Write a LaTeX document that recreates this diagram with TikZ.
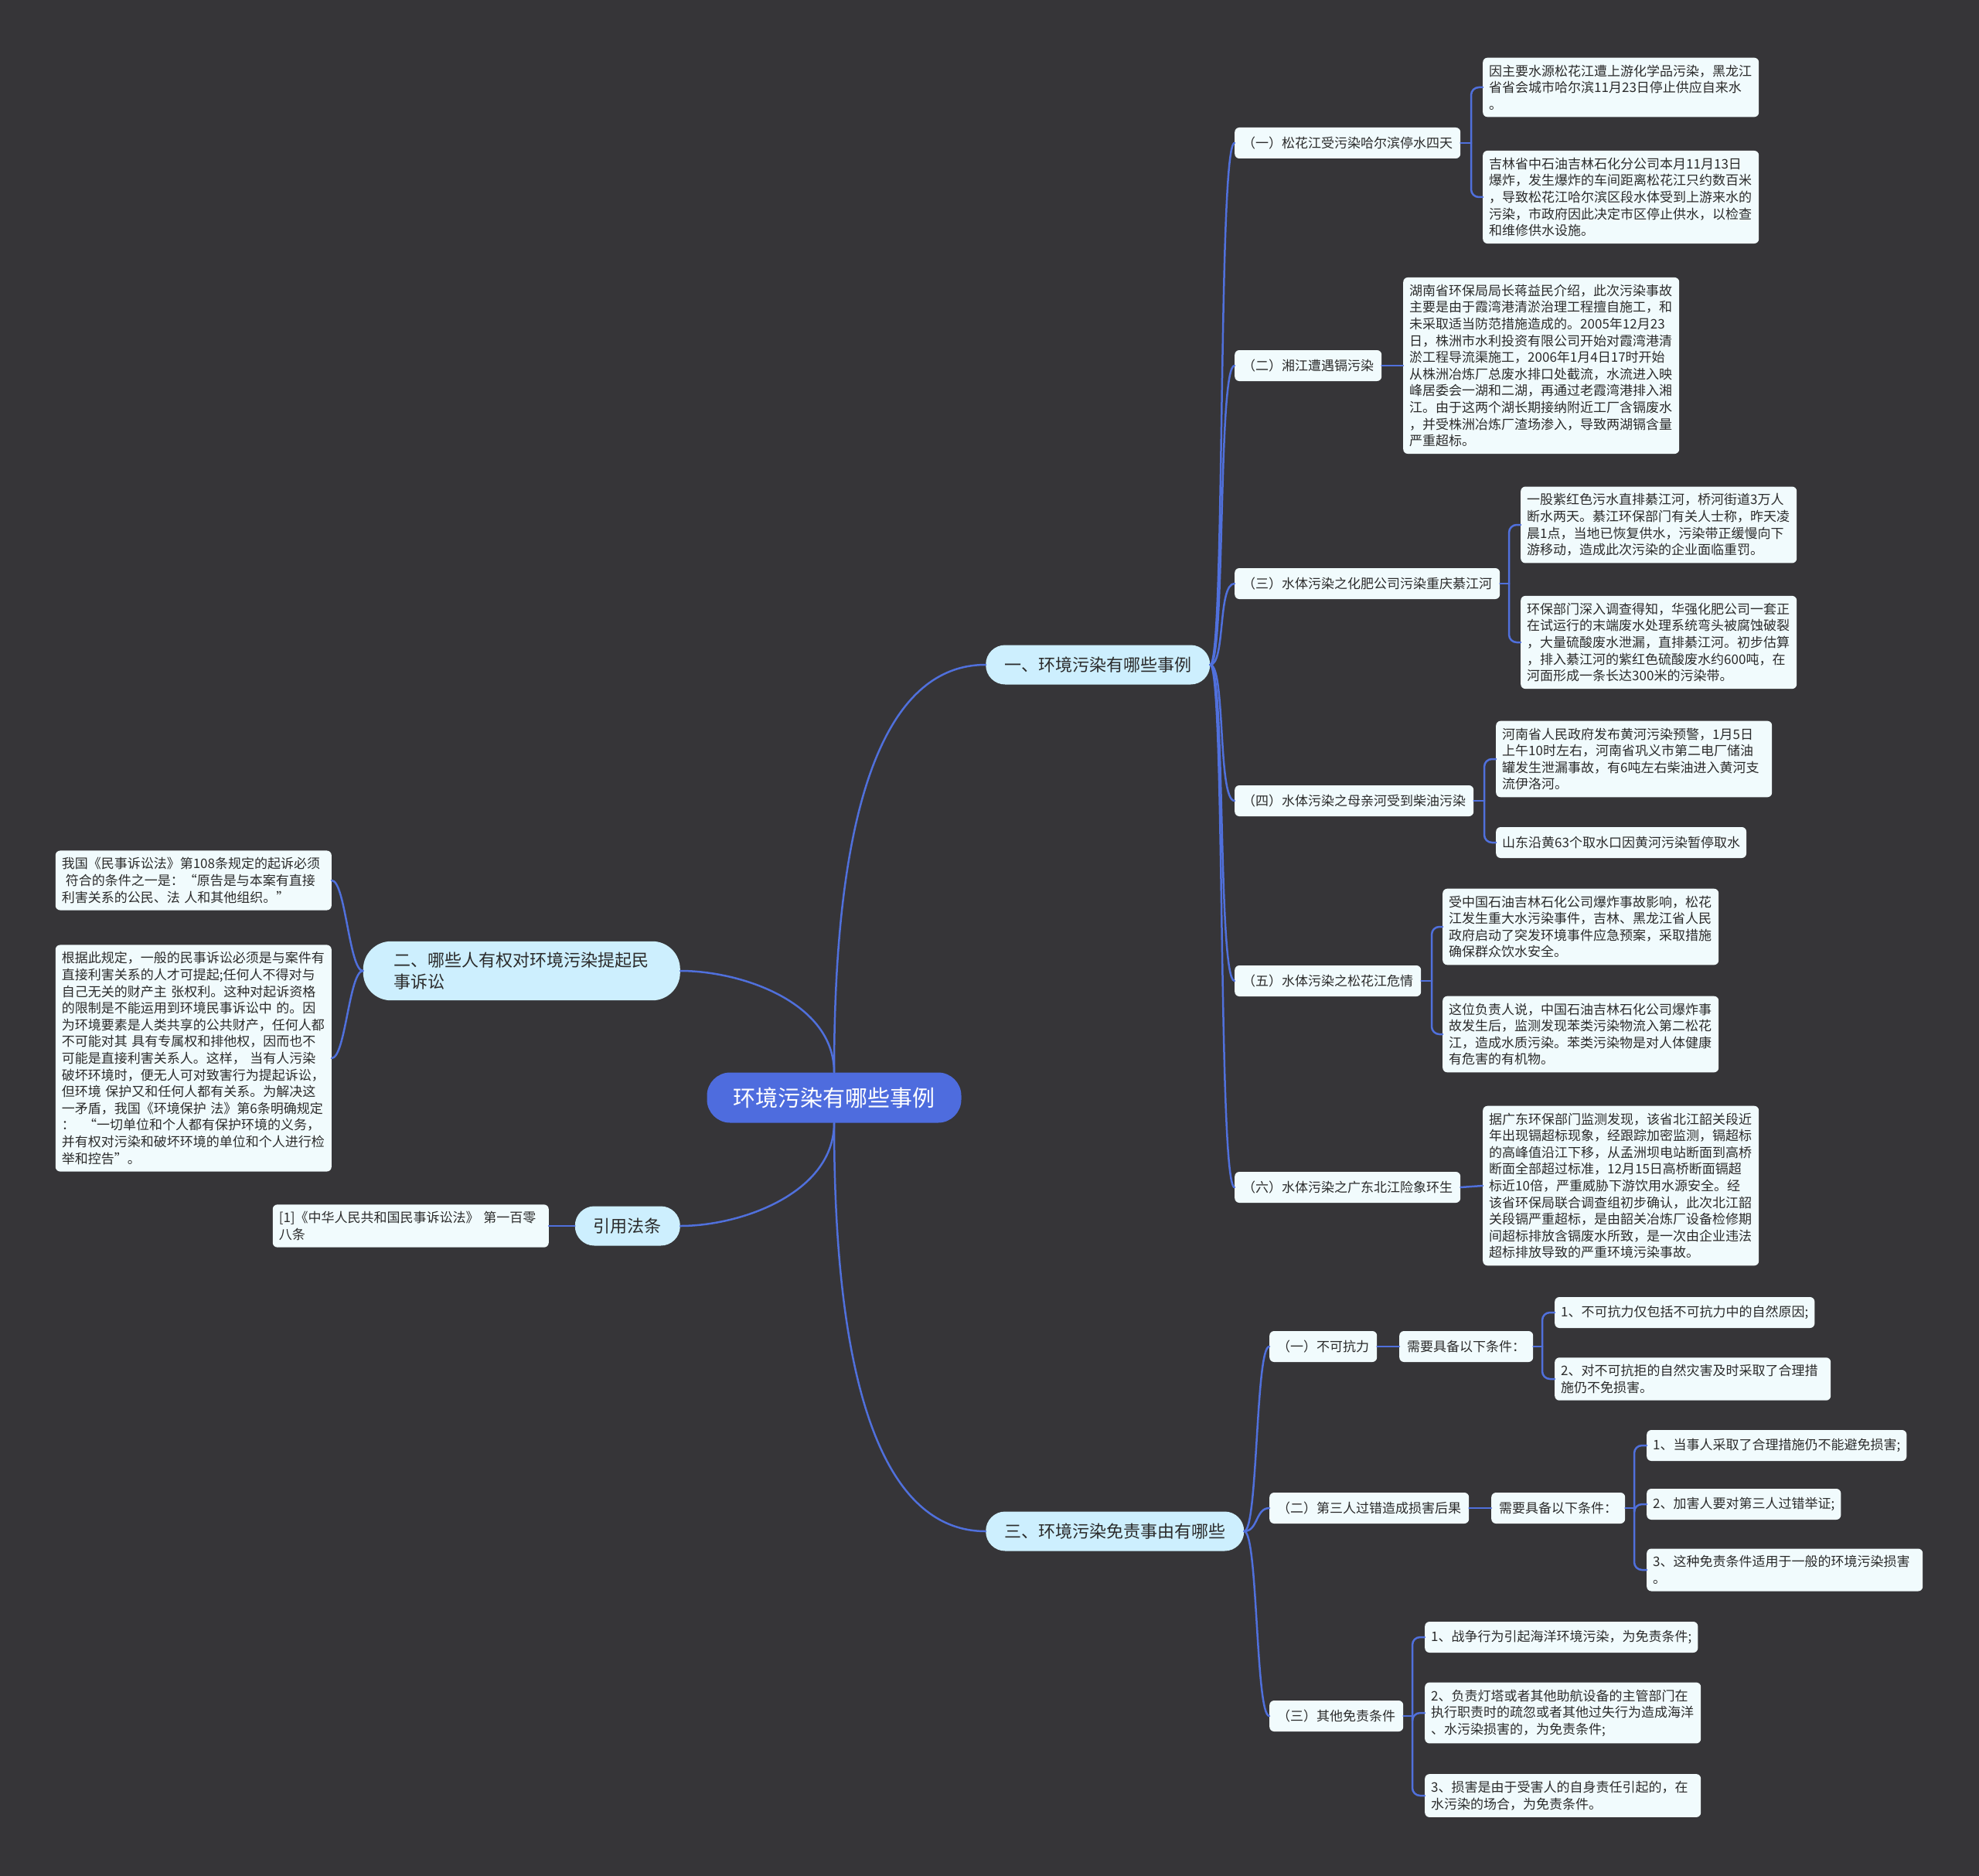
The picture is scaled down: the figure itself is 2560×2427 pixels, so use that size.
\documentclass[tikz,border=0pt]{standalone}
\usepackage{fontspec}
\setmainfont{Noto Sans CJK SC}
\definecolor{bgdark}{HTML}{363538}
\definecolor{linkblue}{HTML}{5070DC}
\definecolor{rootblue}{HTML}{4E6CDE}
\definecolor{topicfill}{HTML}{CDEFFE}
\definecolor{leaffill}{HTML}{F1FBFD}
\definecolor{textdark}{HTML}{2B2B2B}

\begin{document}
\begin{tikzpicture}[x=1pt, y=-1pt,
  every node/.style={text=textdark},
  root/.style={fill=rootblue, text=white, rounded corners=30pt, inner xsep=34pt, minimum height=65pt, font=\fontsize{29}{34}\selectfont},
  topic/.style={fill=topicfill, rounded corners=25pt, inner xsep=24pt, minimum height=51pt, align=left, font=\fontsize{22}{28}\selectfont},
  subtopic/.style={fill=leaffill, rounded corners=6pt, inner xsep=10pt, minimum height=40pt, font=\fontsize{17}{22}\selectfont},
  leafbox/.style={fill=leaffill, rounded corners=6pt, inner xsep=8pt, inner ysep=9pt, minimum height=40pt, align=left, font=\fontsize{17}{21.6}\selectfont},
  leafwide/.style={leafbox, text width=341pt},
  link/.style={draw=linkblue, line width=2.5pt, line cap=round}]

  \path[use as bounding box, fill=bgdark] (0,0) rectangle (2560,2427);

  \node[root] (root) at (1079,1420) {环境污染有哪些事例};
  \node[topic, anchor=west] (b1) at (1275,860) {一、环境污染有哪些事例};
  \node[topic, anchor=east, rounded corners=36pt, inner xsep=40pt, inner ysep=14pt] (b2) at (880,1256) {二、哪些人有权对环境污染提起民\\事诉讼};
  \node[topic, anchor=east] (b3) at (880,1586) {引用法条};
  \node[topic, anchor=west] (b4) at (1275,1981) {三、环境污染免责事由有哪些};

  \node[subtopic, anchor=west] (a1) at (1597,185) {（一）松花江受污染哈尔滨停水四天};
  \node[subtopic, anchor=west] (a2) at (1597,473) {（二）湘江遭遇镉污染};
  \node[subtopic, anchor=west] (a3) at (1597,755) {（三）水体污染之化肥公司污染重庆綦江河};
  \node[subtopic, anchor=west] (a4) at (1597,1036) {（四）水体污染之母亲河受到柴油污染};
  \node[subtopic, anchor=west] (a5) at (1597,1269) {（五）水体污染之松花江危情};
  \node[subtopic, anchor=west] (a6) at (1597,1536) {（六）水体污染之广东北江险象环生};

  \node[leafwide, anchor=west] (l11) at (1918,113) {因主要水源松花江遭上游化学品污染，黑龙江\\省省会城市哈尔滨11月23日停止供应自来水\\。};
  \node[leafwide, anchor=west] (l12) at (1918,255) {吉林省中石油吉林石化分公司本月11月13日\\爆炸，发生爆炸的车间距离松花江只约数百米\\，导致松花江哈尔滨区段水体受到上游来水的\\污染，市政府因此决定市区停止供水，以检查\\和维修供水设施。};
  \node[leafwide, anchor=west] (l21) at (1815,473) {湖南省环保局局长蒋益民介绍，此次污染事故\\主要是由于霞湾港清淤治理工程擅自施工，和\\未采取适当防范措施造成的。2005年12月23\\日，株洲市水利投资有限公司开始对霞湾港清\\淤工程导流渠施工，2006年1月4日17时开始\\从株洲冶炼厂总废水排口处截流，水流进入映\\峰居委会一湖和二湖，再通过老霞湾港排入湘\\江。由于这两个湖长期接纳附近工厂含镉废水\\，并受株洲冶炼厂渣场渗入，导致两湖镉含量\\严重超标。};
  \node[leafwide, anchor=west] (l31) at (1967,679) {一股紫红色污水直排綦江河，桥河街道3万人\\断水两天。綦江环保部门有关人士称，昨天凌\\晨1点，当地已恢复供水，污染带正缓慢向下\\游移动，造成此次污染的企业面临重罚。};
  \node[leafwide, anchor=west] (l32) at (1967,831) {环保部门深入调查得知，华强化肥公司一套正\\在试运行的末端废水处理系统弯头被腐蚀破裂\\，大量硫酸废水泄漏，直排綦江河。初步估算\\，排入綦江河的紫红色硫酸废水约600吨，在\\河面形成一条长达300米的污染带。};
  \node[leafwide, anchor=west] (l41) at (1935,982) {河南省人民政府发布黄河污染预警，1月5日\\上午10时左右，河南省巩义市第二电厂储油\\罐发生泄漏事故，有6吨左右柴油进入黄河支\\流伊洛河。};
  \node[leafbox, anchor=west] (l42) at (1935,1090) {山东沿黄63个取水口因黄河污染暂停取水};
  \node[leafwide, anchor=west] (l51) at (1866,1199) {受中国石油吉林石化公司爆炸事故影响，松花\\江发生重大水污染事件，吉林、黑龙江省人民\\政府启动了突发环境事件应急预案，采取措施\\确保群众饮水安全。};
  \node[leafwide, anchor=west] (l52) at (1866,1338) {这位负责人说，中国石油吉林石化公司爆炸事\\故发生后，监测发现苯类污染物流入第二松花\\江，造成水质污染。苯类污染物是对人体健康\\有危害的有机物。};
  \node[leafwide, anchor=west] (l61) at (1918,1534) {据广东环保部门监测发现，该省北江韶关段近\\年出现镉超标现象，经跟踪加密监测，镉超标\\的高峰值沿江下移，从孟洲坝电站断面到高桥\\断面全部超过标准，12月15日高桥断面镉超\\标近10倍，严重威胁下游饮用水源安全。经\\该省环保局联合调查组初步确认，此次北江韶\\关段镉严重超标，是由韶关冶炼厂设备检修期\\间超标排放含镉废水所致，是一次由企业违法\\超标排放导致的严重环境污染事故。};

  \node[leafwide, anchor=east] (m1) at (429,1139) {我国《民事诉讼法》第108条规定的起诉必须\\\hspace*{5pt}符合的条件之一是：“原告是与本案有直接\\利害关系的公民、法~人和其他组织。”};
  \node[leafwide, anchor=east] (m2) at (429,1369) {根据此规定，一般的民事诉讼必须是与案件有\\直接利害关系的人才可提起;任何人不得对与\\自己无关的财产主~张权利。这种对起诉资格\\的限制是不能运用到环境民事诉讼中~的。因\\为环境要素是人类共享的公共财产，任何人都\\不可能对其~具有专属权和排他权，因而也不\\可能是直接利害关系人。这样，~当有人污染\\破坏环境时，便无人可对致害行为提起诉讼，\\但环境~保护又和任何人都有关系。为解决这\\一矛盾，我国《环境保护~法》第6条明确规定\\：~~“一切单位和个人都有保护环境的义务，\\并有权对污染和破坏环境的单位和个人进行检\\举和控告”。};
  \node[leafwide, anchor=east] (cit) at (710,1586) {[1]《中华人民共和国民事诉讼法》~第一百零\\八条};

  \node[subtopic, anchor=west] (d1) at (1642,1742) {（一）不可抗力};
  \node[subtopic, anchor=west] (d1a) at (1810,1742) {需要具备以下条件：};
  \node[leafbox, anchor=west] (d1c1) at (2011,1698) {1、不可抗力仅包括不可抗力中的自然原因;};
  \node[leafwide, anchor=west] (d1c2) at (2011,1784) {2、对不可抗拒的自然灾害及时采取了合理措\\施仍不免损害。};
  \node[subtopic, anchor=west] (d2) at (1642,1951) {（二）第三人过错造成损害后果};
  \node[subtopic, anchor=west] (d2a) at (1929,1951) {需要具备以下条件：};
  \node[leafbox, anchor=west] (d2c1) at (2130,1870) {1、当事人采取了合理措施仍不能避免损害;};
  \node[leafbox, anchor=west] (d2c2) at (2130,1946) {2、加害人要对第三人过错举证;};
  \node[leafwide, anchor=west] (d2c3) at (2130,2031) {3、这种免责条件适用于一般的环境污染损害\\。};
  \node[subtopic, anchor=west] (d3) at (1642,2220) {（三）其他免责条件};
  \node[leafbox, anchor=west] (d3c1) at (1843,2118) {1、战争行为引起海洋环境污染，为免责条件;};
  \node[leafwide, anchor=west] (d3c2) at (1843,2216) {2、负责灯塔或者其他助航设备的主管部门在\\执行职责时的疏忽或者其他过失行为造成海洋\\、水污染损害的，为免责条件;};
  \node[leafwide, anchor=west] (d3c3) at (1843,2323) {3、损害是由于受害人的自身责任引起的，在\\水污染的场合，为免责条件。};

  \coordinate (j1) at (1903,185);
  \coordinate (j3) at (1952,755);
  \coordinate (j4) at (1920,1036);
  \coordinate (j5) at (1852,1269);
  \coordinate (jm) at (1995,1742);
  \coordinate (jn) at (2114,1951);
  \coordinate (jo) at (1827,2220);

  \draw[link] (root.north) .. controls +(0,-420) and +(-100,0) .. (b1.west);
  \draw[link] (root.north) .. controls +(0,-90) and +(80,0) .. (b2.east);
  \draw[link] (root.south) .. controls +(0,90) and +(80,0) .. (b3.east);
  \draw[link] (root.south) .. controls +(0,420) and +(-100,0) .. (b4.west);

  \draw[link] (b1.east) .. controls +(20,0) and +(-22,0) .. (a1.west);
  \draw[link] (b1.east) .. controls +(20,0) and +(-22,0) .. (a2.west);
  \draw[link] (b1.east) .. controls +(20,0) and +(-22,0) .. (a3.west);
  \draw[link] (b1.east) .. controls +(20,0) and +(-22,0) .. (a4.west);
  \draw[link] (b1.east) .. controls +(20,0) and +(-22,0) .. (a5.west);
  \draw[link] (b1.east) .. controls +(20,0) and +(-22,0) .. (a6.west);

  \draw[link] (a1.east) -- (j1);
  \draw[link, rounded corners=10pt] (j1) |- (l11.west);
  \draw[link, rounded corners=10pt] (j1) |- (l12.west);
  \draw[link] (a2.east) -- (l21.west);
  \draw[link] (a3.east) -- (j3);
  \draw[link, rounded corners=10pt] (j3) |- (l31.west);
  \draw[link, rounded corners=10pt] (j3) |- (l32.west);
  \draw[link] (a4.east) -- (j4);
  \draw[link, rounded corners=10pt] (j4) |- (l41.west);
  \draw[link, rounded corners=10pt] (j4) |- (l42.west);
  \draw[link] (a5.east) -- (j5);
  \draw[link, rounded corners=10pt] (j5) |- (l51.west);
  \draw[link, rounded corners=10pt] (j5) |- (l52.west);
  \draw[link] (a6.east) -- (l61.west);

  \draw[link] (b2.west) .. controls +(-18,0) and +(18,0) .. (m1.east);
  \draw[link] (b2.west) .. controls +(-18,0) and +(18,0) .. (m2.east);
  \draw[link] (b3.west) -- (cit.east);

  \draw[link] (b4.east) .. controls +(18,0) and +(-18,0) .. (d1.west);
  \draw[link] (b4.east) .. controls +(18,0) and +(-18,0) .. (d2.west);
  \draw[link] (b4.east) .. controls +(18,0) and +(-18,0) .. (d3.west);
  \draw[link] (d1.east) -- (d1a.west);
  \draw[link] (d1a.east) -- (jm);
  \draw[link, rounded corners=10pt] (jm) |- (d1c1.west);
  \draw[link, rounded corners=10pt] (jm) |- (d1c2.west);
  \draw[link] (d2.east) -- (d2a.west);
  \draw[link] (d2a.east) -- (jn);
  \draw[link, rounded corners=10pt] (jn) |- (d2c1.west);
  \draw[link, rounded corners=10pt] (jn) |- (d2c2.west);
  \draw[link, rounded corners=10pt] (jn) |- (d2c3.west);
  \draw[link] (d3.east) -- (jo);
  \draw[link, rounded corners=10pt] (jo) |- (d3c1.west);
  \draw[link, rounded corners=10pt] (jo) |- (d3c2.west);
  \draw[link, rounded corners=10pt] (jo) |- (d3c3.west);
\end{tikzpicture}
\end{document}
